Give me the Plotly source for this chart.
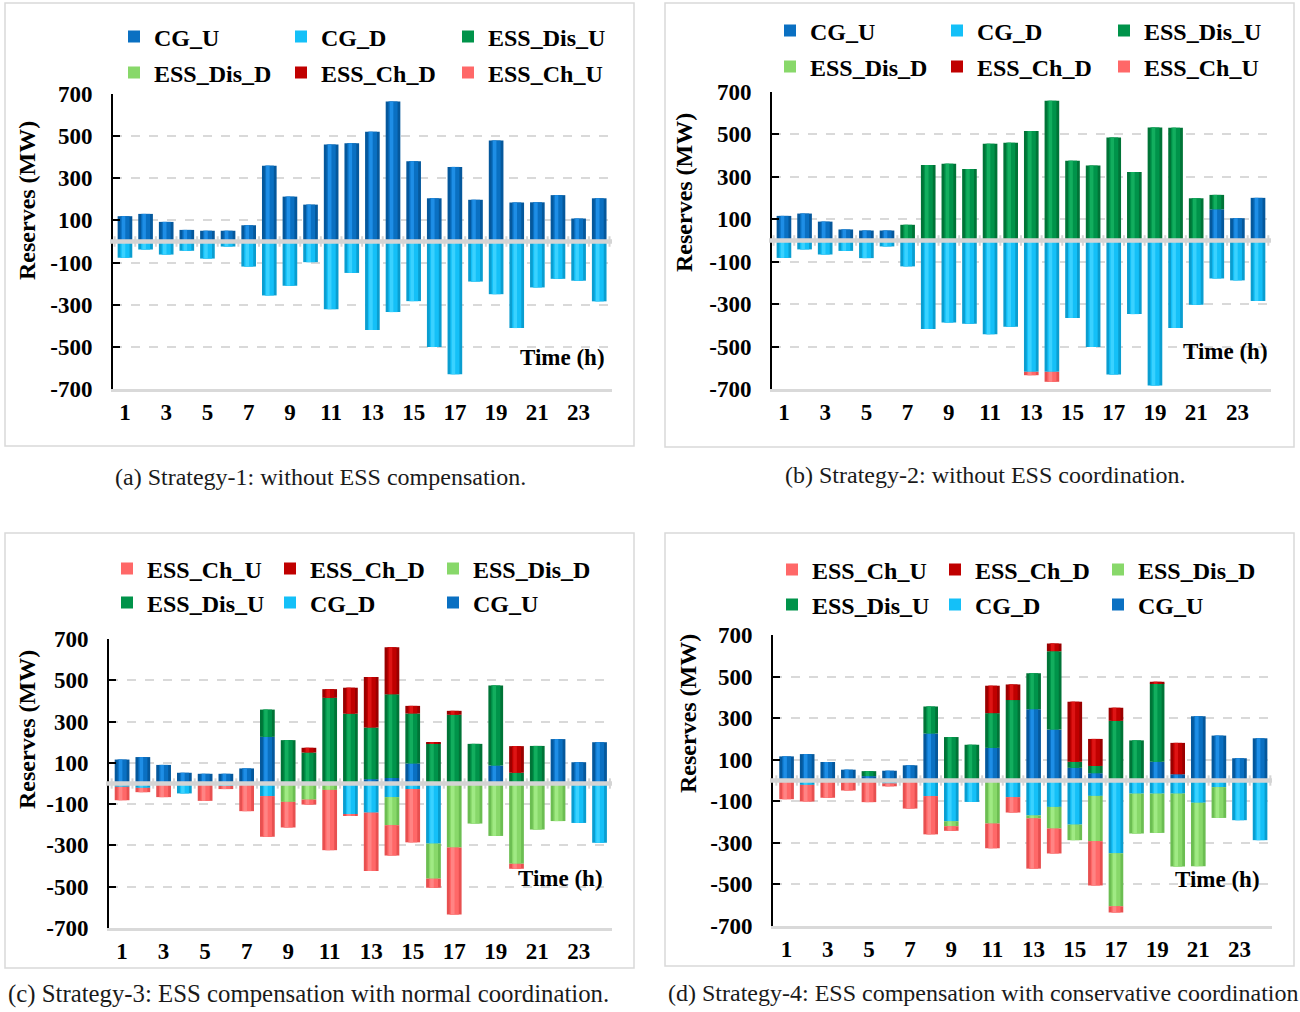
import plotly.graph_objects as go

W, H = 1300, 1012

hours = list(range(1, 25))
tick_hours = list(range(1, 24, 2))
y_ticks = [-700, -500, -300, -100, 100, 300, 500, 700]

series_names = ["CG_U", "CG_D", "ESS_Dis_U", "ESS_Dis_D", "ESS_Ch_D", "ESS_Ch_U"]
# legend colour, cylinder edge shade, cylinder highlight
series_colors = ["#0A70C2", "#14C0F8", "#00934A", "#88D86A", "#C00000", "#FF6868"]
edge_colors = ["#05589C", "#0A9ED0", "#007437", "#6CBE52", "#9A0000", "#E85050"]
light_colors = ["#1E8EE6", "#3AD2FF", "#12AE5E", "#A0EA84", "#DE1414", "#FF8484"]

# Strategy-1: without ESS compensation
s1_cg_u = [120, 131, 93, 55, 51, 51, 77, 360, 213, 175, 460, 466, 521, 664, 381, 205, 354, 198, 479, 185, 186, 220, 109, 205]
s1_cg_d = [-77, -38, -62, -44, -81, -24, -119, -256, -210, -98, -321, -149, -420, -335, -283, -501, -630, -190, -250, -411, -218, -177, -186, -284]
s1_dis_u = [0] * 24
s1_dis_d = [0] * 24
s1_ch_d = [0] * 24
s1_ch_u = [0] * 24

# Strategy-2: without ESS coordination
s2_cg_u = [116, 127, 89, 52, 47, 47, 0, 0, 0, 0, 0, 0, 0, 0, 0, 0, 0, 0, 0, 0, 0, 147, 105, 201]
s2_cg_d = [-82, -42, -66, -49, -83, -28, -122, -417, -387, -392, -442, -406, -619, -619, -365, -502, -632, -347, -684, -412, -303, -179, -188, -285]
s2_dis_u = [0, 0, 0, 0, 0, 0, 74, 356, 362, 337, 456, 461, 516, 659, 376, 353, 485, 323, 533, 532, 199, 68, 0, 0]
s2_dis_d = [0] * 24
s2_ch_d = [0] * 24
s2_ch_u = [0, 0, 0, 0, 0, 0, 0, 0, 0, 0, 0, 0, -16, -47, 0, 0, 0, 0, 0, 0, 0, 0, 0, 0]

# Strategy-3: ESS compensation with normal coordination
s3_cg_u = [116, 128, 90, 52, 47, 47, 73, 226, 0, 0, 0, 0, 21, 27, 97, 0, 0, 0, 87, 0, 0, 215, 103, 200]
s3_cg_d = [-16, -21, 0, -48, -5, -12, 0, -61, 0, 0, 0, -149, -141, -66, -27, -291, 0, 0, 0, 0, 0, 0, -191, -287]
s3_dis_u = [0, 0, 0, 0, 0, 0, 0, 132, 210, 150, 415, 338, 250, 405, 242, 195, 333, 192, 388, 52, 182, 0, 0, 0]
s3_dis_d = [0, 0, 0, 0, 0, 0, 0, 0, -89, -78, -31, 0, 0, -136, 0, -170, -310, -194, -254, -389, -223, -182, 0, 0]
s3_ch_d = [0, 0, 0, 0, 0, 0, 0, 0, 0, 23, 42, 126, 245, 228, 37, 5, 19, 0, 0, 129, 0, 0, 0, 0]
s3_ch_u = [-65, -21, -66, 0, -79, -15, -134, -197, -124, -24, -292, -5, -283, -147, -258, -44, -325, 0, 0, -24, 0, 0, 0, 0]

# Strategy-4: ESS compensation with conservative coordination
s4_cg_u = [116, 127, 89, 52, 21, 47, 73, 226, 0, 0, 157, 0, 343, 245, 61, 35, 0, 0, 90, 30, 309, 216, 107, 203]
s4_cg_d = [0, -21, 0, -8, 0, -14, 0, -75, -196, -103, 0, -80, -168, -127, -212, -74, -350, -63, -63, -63, -107, -32, -191, -287]
s4_dis_u = [0, 0, 0, 0, 24, 0, 0, 130, 209, 172, 167, 387, 173, 377, 29, 35, 287, 193, 377, 0, 0, 0, 0, 0]
s4_dis_d = [0, 0, 0, 0, 0, 0, 0, 0, -24, 0, -207, 0, -14, -104, -75, -218, -255, -192, -189, -351, -305, -148, 0, 0]
s4_ch_d = [0, 0, 0, 0, 0, 0, 0, 0, 0, 0, 132, 75, 0, 37, 289, 130, 63, 0, 8, 151, 0, 0, 0, 0]
s4_ch_u = [-90, -80, -83, -40, -104, -14, -135, -184, -22, 0, -119, -74, -242, -120, 0, -213, -30, 0, 0, 0, 0, 0, 0, 0]

strategies = [
    [s1_cg_u, s1_cg_d, s1_dis_u, s1_dis_d, s1_ch_d, s1_ch_u],
    [s2_cg_u, s2_cg_d, s2_dis_u, s2_dis_d, s2_ch_d, s2_ch_u],
    [s3_cg_u, s3_cg_d, s3_dis_u, s3_dis_d, s3_ch_d, s3_ch_u],
    [s4_cg_u, s4_cg_d, s4_dis_u, s4_dis_d, s4_ch_d, s4_ch_u],
]

captions = [
    "(a) Strategy-1: without ESS compensation.",
    "(b) Strategy-2: without ESS coordination.",
    "(c) Strategy-3: ESS compensation with normal coordination.",
    "(d) Strategy-4: ESS compensation with conservative coordination",
]

FONT = "Times New Roman, Liberation Serif, serif"
GRID = "#d9d9d9"
BAR_W = 0.71


def px(x):
    return x / W


def py(y):
    return 1 - y / H


# Panel geometry in pixels: plot area (left, right, top, bottom), x range,
# frame box, legend rows, y-title centre, "Time (h)" anchor, caption centre.
panels = [
    dict(plot=(113, 612, 94, 389), xr=(0.42, 24.62), box=(5, 634, 3, 446),
         leg_x=114, leg_y=(37, 73), leg_w=122, ytitle=(27, 201), tlabel=(607, 357),
         cap=(320, 477), cap_size=24),
    dict(plot=(772, 1271, 92, 389), xr=(0.42, 24.63), box=(665, 1294, 3, 447),
         leg_x=770, leg_y=(31, 67), leg_w=122, ytitle=(684, 193), tlabel=(1270, 351),
         cap=(985, 475), cap_size=24),
    dict(plot=(109, 612, 639, 928), xr=(0.37, 24.6), box=(5, 634, 533, 968),
         leg_x=107, leg_y=(569, 603), leg_w=118, ytitle=(27, 730), tlabel=(605, 878),
         cap=(308, 994), cap_size=24.8),
    dict(plot=(773, 1272, 635, 926), xr=(0.34, 24.58), box=(665, 1294, 533, 966),
         leg_x=772, leg_y=(570, 605), leg_w=118, ytitle=(688, 714), tlabel=(1262, 879),
         cap=(983, 993), cap_size=24),
]

fig = go.Figure()
shapes = []
annotations = []
layout_axes = {}
legends = {}


def ax_names(n):
    return ("x" if n == 1 else f"x{n}", "y" if n == 1 else f"y{n}",
            "xaxis" if n == 1 else f"xaxis{n}", "yaxis" if n == 1 else f"yaxis{n}")


for p, (cfg, series) in enumerate(zip(panels, strategies)):
    xa, ya, xkey, ykey = ax_names(p + 1)
    l, r, t, b = cfg["plot"]

    # legend rows: top row and bottom row of the panel
    leg_top = "legend" if p == 0 else f"legend{2 * p + 1}"
    leg_bot = f"legend{2 * p + 2}"
    for name, yy in ((leg_top, cfg["leg_y"][0]), (leg_bot, cfg["leg_y"][1])):
        legends[name] = dict(
            orientation="h", x=px(cfg["leg_x"]), y=py(yy), xanchor="left", yanchor="middle",
            entrywidth=cfg["leg_w"], entrywidthmode="pixels",
            font=dict(family=FONT, size=24, color="#000000", weight="bold"),
            bgcolor="rgba(0,0,0,0)", borderwidth=0,
            traceorder="normal" if p < 2 else "reversed",
        )

    # base bars (cylinder edge shade); legend swatches use the flat series colour
    for i, (name, color, edge, vals) in enumerate(zip(series_names, series_colors, edge_colors, series)):
        if p < 2:
            lg = leg_top if i < 3 else leg_bot
        else:
            lg = leg_bot if i < 3 else leg_top
        fig.add_trace(go.Bar(
            x=hours, y=vals, name=name, xaxis=xa, yaxis=ya, width=BAR_W,
            marker=dict(color=edge, line=dict(width=0)),
            legend=lg, showlegend=False, hoverinfo="skip",
        ))
        fig.add_trace(go.Bar(
            x=[None], y=[None], name=name, xaxis=xa, yaxis=ya,
            marker=dict(color=color, line=dict(width=0)),
            legend=lg, showlegend=True,
        ))

    layout_axes[xkey] = dict(
        domain=[px(l), px(r)], anchor=ya, range=list(cfg["xr"]),
        tickmode="array", tickvals=tick_hours, ticktext=[str(h) for h in tick_hours],
        ticks="", showgrid=False, zeroline=False,
        showline=True, linecolor=GRID, linewidth=3, mirror=False,
        tickfont=dict(family=FONT, size=23, color="#000000", weight="bold"),
        ticklabelstandoff=0,
    )
    layout_axes[ykey] = dict(
        domain=[py(b), py(t)], anchor=xa, range=[-700, 700],
        tickmode="array", tickvals=y_ticks, ticktext=[str(v) for v in y_ticks],
        ticks="inside", ticklen=7, tickwidth=2, tickcolor="#000000",
        showline=True, linecolor="#000000", linewidth=2,
        showgrid=True, gridcolor=GRID, gridwidth=2, griddash="dash",
        zeroline=False,
        tickfont=dict(family=FONT, size=23, color="#000000", weight="bold"),
        ticklabelstandoff=14,
    )

    # shading layers of the cylinders, each on its own overlaid axis pair
    for k, (shade, wfrac, off) in enumerate(((series_colors, 0.62, 0.0), (light_colors, 0.24, -0.07))):
        n = 5 + 4 * k + p
        oxa, oya, oxkey, oykey = ax_names(n)
        for name, col, vals in zip(series_names, shade, series):
            fig.add_trace(go.Bar(
                x=hours, y=vals, name=name, xaxis=oxa, yaxis=oya,
                width=BAR_W * wfrac, offset=-BAR_W * wfrac / 2 + off,
                marker=dict(color=col, line=dict(width=0)),
                showlegend=False, hoverinfo="skip",
            ))
        layout_axes[oxkey] = dict(domain=[px(l), px(r)], anchor=oya, overlaying=xa, range=list(cfg["xr"]),
                                  visible=False, showgrid=False, zeroline=False)
        layout_axes[oykey] = dict(domain=[py(b), py(t)], anchor=oxa, overlaying=ya, range=[-700, 700],
                                  visible=False, showgrid=False, zeroline=False)

    # frame around each panel
    bx0, bx1, by0, by1 = cfg["box"]
    shapes.append(dict(type="rect", xref="paper", yref="paper",
                       x0=px(bx0), x1=px(bx1), y0=py(by1), y1=py(by0),
                       line=dict(color="#d9d9d9", width=1.5), fillcolor="rgba(0,0,0,0)", layer="below"))

    # horizontal axis drawn at zero with category tick marks
    shapes.append(dict(type="line", xref=f"{xa} domain", yref=ya, x0=-0.006, x1=1, y0=0, y1=0,
                       line=dict(color="#d4d4d4", width=4.5), layer="above"))
    for h in [0] + hours:
        shapes.append(dict(type="line", xref=xa, yref=ya, x0=h + 0.5, x1=h + 0.5, y0=-25, y1=25,
                           line=dict(color="#d4d4d4", width=2), layer="above"))

    annotations.append(dict(
        text="Reserves (MW)", textangle=-90, xref="paper", yref="paper",
        x=px(cfg["ytitle"][0]), y=py(cfg["ytitle"][1]), xanchor="center", yanchor="middle",
        showarrow=False, font=dict(family=FONT, size=24, color="#000000", weight="bold"),
    ))
    annotations.append(dict(
        text="Time (h)", xref="paper", yref="paper",
        x=px(cfg["tlabel"][0]), y=py(cfg["tlabel"][1]), xanchor="right", yanchor="middle",
        showarrow=False, font=dict(family=FONT, size=23, color="#000000", weight="bold"),
    ))
    annotations.append(dict(
        text=captions[p], xref="paper", yref="paper",
        x=px(cfg["cap"][0]), y=py(cfg["cap"][1]), xanchor="center", yanchor="middle",
        showarrow=False, font=dict(family=FONT, size=cfg["cap_size"], color="#1a1a1a"),
    ))

fig.update_layout(
    width=W, height=H,
    margin=dict(l=0, r=0, t=0, b=0, autoexpand=False),
    paper_bgcolor="#ffffff", plot_bgcolor="rgba(0,0,0,0)",
    barmode="relative",
    font=dict(family=FONT, size=22, color="#000000"),
    shapes=shapes, annotations=annotations,
    **layout_axes, **legends,
)

fig.write_html("out.html")
